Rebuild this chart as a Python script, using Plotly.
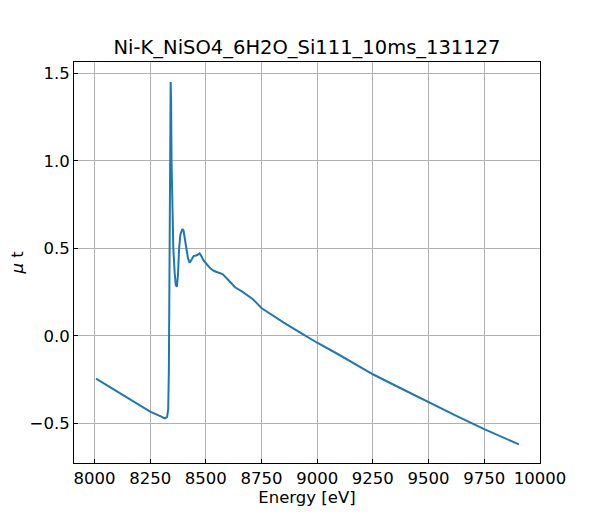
import plotly.graph_objects as go

# Ni K-edge scan
energy = [8007, 8050, 8100, 8150, 8200, 8250, 8300, 8316, 8326, 8331, 8334, 8337, 8340, 8342,
          8344, 8346, 8349, 8354, 8360, 8365, 8370, 8375, 8380, 8386, 8395,
          8400, 8410, 8420, 8428, 8435, 8445, 8460, 8472, 8480, 8490, 8503,
          8520, 8537, 8560, 8575, 8600, 8631, 8660, 8683, 8710, 8751, 8800,
          8850, 8922, 9000, 9100, 9250, 9375, 9500, 9625, 9750, 9906]
mu_t = [-0.245, -0.279, -0.318, -0.357, -0.395, -0.433, -0.462, -0.472, -0.465, -0.42, -0.2, 0.4, 1.2, 1.45,
        1.35, 1.0, 0.7, 0.5, 0.36, 0.29, 0.28, 0.35, 0.5, 0.58, 0.61,
        0.6, 0.52, 0.44, 0.417, 0.43, 0.455, 0.46, 0.47, 0.455, 0.43, 0.41,
        0.385, 0.37, 0.36, 0.352, 0.32, 0.277, 0.255, 0.233, 0.21, 0.157, 0.115,
        0.075, 0.019, -0.04, -0.11, -0.22, -0.30, -0.38, -0.458, -0.533, -0.621]

title = "Ni-K_NiSO4_6H2O_Si111_10ms_131127"

fig = go.Figure(go.Scatter(x=energy, y=mu_t, mode="lines",
                           line=dict(color="#1f77b4", width=2), showlegend=False))

ax = dict(showline=True, linewidth=1, linecolor="black", mirror=True,
          ticks="inside", ticklen=4, tickcolor="black", automargin=False,
          showgrid=True, gridcolor="#b0b0b0", gridwidth=1, zeroline=False,
          ticklabeloverflow="allow",
          tickfont=dict(size=16.5, color="black"))

fig.update_layout(
    width=600, height=520,
    plot_bgcolor="white", paper_bgcolor="white",
    font=dict(family="DejaVu Sans", color="black"),
    margin=dict(l=66, r=68, t=54, b=65),
    title=dict(text=title, x=0.5, xref="paper", y=1 - 39 / 520, yref="container",
               yanchor="middle", font=dict(size=19.5)),
    xaxis=dict(ax, range=[7908, 10000.5], tick0=8000, dtick=250, tickformat="d",
               title=dict(text="Energy [eV]", font=dict(size=16.5), standoff=4)),
    yaxis=dict(ax, range=[-0.727, 1.564], tick0=0, dtick=0.5, tickformat=".1f",
               title=dict(text="<i>μ</i> t", font=dict(size=16.5), standoff=8)),
)

fig.write_html("out.html")
